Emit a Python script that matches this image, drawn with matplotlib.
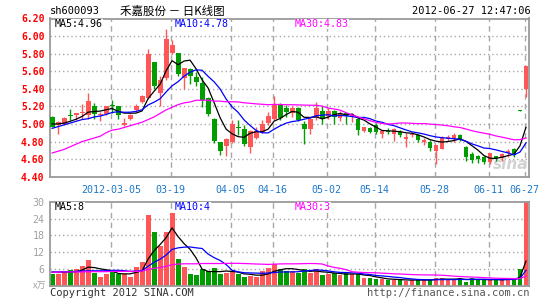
import matplotlib
matplotlib.use('Agg')
import matplotlib.pyplot as plt
import matplotlib.transforms as mtransforms
import numpy as np
import pandas as pd

# ---------------- data ----------------
opens = [5.08, 4.99, 5.00, 5.10, 5.10, 5.12, 5.10, 5.21, 5.10, 5.11,
         5.21, 5.20, 4.99, 5.06, 5.16, 5.25, 5.30, 5.71, 5.35, 5.52,
         5.81, 5.81, 5.52, 5.63, 5.54, 5.47, 5.30, 5.06, 4.80, 4.75,
         4.80, 4.96, 4.94, 4.74, 4.84, 4.91, 5.01, 5.06, 5.23, 5.18,
         5.13, 5.18, 5.00, 4.94, 5.07, 5.15, 5.09, 5.15, 5.07, 5.12,
         5.09, 5.06, 4.92, 4.95, 4.99, 4.89, 4.92, 4.89, 4.91, 4.83,
         4.87, 4.88, 4.80, 4.79, 4.69, 4.72, 4.83, 4.83, 4.87, 4.74,
         4.66, 4.63, 4.62, 4.57, 4.63, 4.61, 4.67, 4.72, 5.155, 5.40]
closes = [4.97, 5.02, 5.07, 5.09, 5.12, 5.13, 5.26, 5.11, 5.11, 5.20,
          5.20, 5.10, 5.01, 5.10, 5.21, 5.32, 5.80, 5.43, 5.50, 5.97,
          5.90, 5.57, 5.64, 5.55, 5.48, 5.27, 5.11, 4.81, 4.69, 4.83,
          5.00, 4.95, 4.77, 4.92, 4.92, 5.00, 5.09, 5.23, 5.07, 5.14,
          5.18, 5.05, 4.94, 5.06, 5.18, 5.06, 5.15, 5.08, 5.13, 5.09,
          5.11, 4.93, 4.96, 4.91, 4.91, 4.92, 4.91, 4.94, 4.88, 4.85,
          4.89, 4.82, 4.82, 4.73, 4.76, 4.84, 4.85, 4.88, 4.82, 4.62,
          4.59, 4.60, 4.57, 4.67, 4.61, 4.66, 4.69, 4.65, 5.15, 5.66]
highs = [5.09, 5.03, 5.08, 5.17, 5.13, 5.23, 5.35, 5.24, 5.14, 5.21,
         5.27, 5.20, 5.07, 5.11, 5.23, 5.33, 5.85, 5.71, 5.55, 6.08,
         5.96, 5.81, 5.64, 5.64, 5.59, 5.53, 5.31, 5.07, 4.80, 4.84,
         5.05, 5.05, 4.99, 4.93, 4.96, 5.05, 5.14, 5.32, 5.24, 5.22,
         5.21, 5.19, 5.03, 5.08, 5.25, 5.20, 5.18, 5.16, 5.15, 5.13,
         5.13, 5.07, 4.97, 4.97, 5.01, 4.93, 4.95, 4.95, 4.93, 4.90,
         4.91, 4.89, 4.84, 4.82, 4.76, 4.86, 4.88, 4.90, 4.89, 4.75,
         4.68, 4.65, 4.64, 4.67, 4.64, 4.67, 4.72, 4.73, 5.155, 5.66]
lows = [4.96, 4.89, 4.99, 5.05, 5.05, 5.06, 5.06, 5.06, 5.03, 5.10,
        5.13, 5.06, 4.98, 5.05, 5.15, 5.24, 5.28, 5.40, 5.20, 5.50,
        5.80, 5.55, 5.40, 5.45, 5.43, 5.19, 5.09, 4.78, 4.65, 4.63,
        4.78, 4.88, 4.75, 4.67, 4.83, 4.90, 4.99, 5.05, 5.05, 5.08,
        5.08, 5.03, 4.77, 4.89, 5.05, 5.00, 5.06, 5.00, 5.03, 5.00,
        5.02, 4.88, 4.91, 4.90, 4.89, 4.84, 4.89, 4.81, 4.85, 4.74,
        4.85, 4.80, 4.76, 4.69, 4.54, 4.71, 4.81, 4.80, 4.81, 4.58,
        4.56, 4.56, 4.55, 4.55, 4.58, 4.58, 4.62, 4.62, 5.15, 5.31]
volumes = [4.3, 4.1, 5.4, 5.6, 6.0, 7.2, 9.3, 4.8, 3.3, 4.3,
           5.6, 4.3, 4.1, 3.3, 6.9, 8.4, 25.1, 19.1, 14.2, 19.1,
           25.9, 9.6, 6.6, 4.1, 3.8, 6.0, 5.4, 6.3, 4.1, 4.8,
           5.4, 4.1, 3.2, 3.4, 3.2, 5.4, 6.3, 7.8, 6.0, 5.3,
           5.4, 4.8, 6.0, 4.6, 6.0, 3.8, 4.1, 4.6, 3.8, 4.8,
           4.1, 4.1, 2.8, 2.8, 2.4, 2.4, 2.2, 2.2, 2.2, 1.8,
           2.2, 2.2, 2.2, 2.2, 2.8, 2.8, 2.2, 2.2, 2.8, 1.6,
           2.8, 2.2, 2.2, 2.2, 2.2, 2.2, 2.9, 2.2, 6.0, 31.0]

# moving-average values before a full window exists
ma5_head = [5.00, 5.00, 5.01, 5.03]
ma10_head = [4.95, 4.97, 4.99, 5.01, 5.03, 5.05, 5.06, 5.08, 5.09]
ma30_head = [4.67, 4.69, 4.71, 4.74, 4.77, 4.80, 4.82, 4.84, 4.86, 4.90,
             4.93, 4.94, 4.96, 4.98, 5.00, 5.02, 5.05, 5.08, 5.12, 5.16,
             5.19, 5.22, 5.24, 5.25, 5.27, 5.27, 5.27, 5.26, 5.26]
vma5_head = [4.9, 4.8, 4.9, 5.0]
vma10_head = [5.0, 5.0, 5.1, 5.1, 5.2, 5.3, 5.4, 5.4, 5.4]
vma30_head = [4.9, 4.9, 5.0, 5.0, 5.0, 5.0, 5.1, 5.1, 5.1, 5.1,
              5.2, 5.2, 5.2, 5.2, 5.2, 5.3, 5.9, 6.3, 6.6, 7.0,
              7.6, 7.8, 7.9, 7.9, 7.9, 8.0, 8.0, 8.0, 8.0]

date_idx = [10, 20, 30, 37, 46, 54, 64, 73, 79]
date_labels = ['2012-03-05', '03-19', '04-05', '04-16', '05-02',
               '05-14', '05-28', '06-11', '06-27']
price_ticks = [6.20, 6.00, 5.80, 5.60, 5.40, 5.20, 5.00, 4.80, 4.60, 4.40]
vol_ticks = [30, 24, 18, 12, 6]

price_legend = ['MA5:4.96', 'MA10:4.78', 'MA30:4.83']
vol_legend = ['MA5:8', 'MA10:4', 'MA30:3']
title_code = 'sh600093'
title_name = '禾嘉股份 － 日K线图'
title_time = '2012-06-27 12:47:06'

# ---------------- styles ----------------
RED = '#FF5757'
GREEN = '#009C00'
MA_COLORS = ['#000000', '#0000FF', '#FF00FF']
GRID = '#A8A8A8'
MONO = 'DejaVu Sans Mono'

W, H = 545, 300
fig = plt.figure(figsize=(W / 100, H / 100), dpi=100)
fig.patch.set_facecolor('white')


def px_axes(x0, y0, x1, y1):
    return fig.add_axes([x0 / W, 1 - y1 / H, (x1 - x0) / W, (y1 - y0) / H])


def with_head(values, n, head):
    s = pd.Series(values, dtype=float).rolling(n).mean().to_numpy()
    s[:n - 1] = head
    return s


n = len(closes)
x = np.arange(n)
o = np.array(opens); c = np.array(closes)
hi = np.array(highs); lo = np.array(lows)
up = c > o
colors = [RED if u else GREEN for u in up]
XMIN, XMAX = -0.35, n - 0.5
div_x = [i - 0.22 for i in date_idx]

ax_p = px_axes(50, 18.5, 529, 176.7)
ax_v = px_axes(50, 201.7, 529, 286)

for ax in (ax_p, ax_v):
    ax.set_xlim(XMIN, XMAX)
    ax.set_xticks([])
    for sp in ax.spines.values():
        sp.set_color('#9A9A9A')
        sp.set_linewidth(1.3)
    for dx in div_x:
        ax.axvline(dx, color=GRID, lw=1.0, dashes=(4, 3), zorder=0)
    ax.tick_params(axis='y', length=0, pad=4)

# ---- price panel ----
ax_p.set_ylim(4.40, 6.20)
ax_p.set_yticks(price_ticks)
ax_p.set_yticklabels(['%.2f' % t for t in price_ticks], color='#FF0000',
                     fontfamily=MONO, fontsize=7, fontweight='bold')
for t in price_ticks[1:-1]:
    ax_p.axhline(t, color=GRID, lw=1.0, dashes=(1, 2), zorder=0)

body_bottom = np.minimum(o, c)
body_h = np.maximum(np.abs(c - o), 0.011)
ax_p.vlines(x, lo, hi, colors=colors, lw=1.0, zorder=2)
ax_p.bar(x, body_h, bottom=body_bottom, width=0.82, color=colors,
         linewidth=0, zorder=3)

ma_price = [with_head(closes, 5, ma5_head), with_head(closes, 10, ma10_head),
            with_head(closes, 30, ma30_head)]
for m, col in zip(ma_price, MA_COLORS):
    ax_p.plot(x, m, color=col, lw=0.9, zorder=4)

# sina watermark
ax_p.text(0.998, 0.03, 'sina', transform=ax_p.transAxes, ha='right',
          va='bottom', fontsize=11, fontstyle='italic', fontweight='bold',
          color='#D2D2D2', zorder=1)

for k, (txt, col) in enumerate(zip(price_legend, MA_COLORS)):
    fig.text((55 + 120 * k) / W, 1 - 24 / H, txt, color=col, fontfamily=MONO,
             fontsize=7.2, va='center', ha='left',
             bbox=dict(facecolor='white', edgecolor='none', pad=0.3))

# date labels
trans = mtransforms.blended_transform_factory(ax_p.transData, fig.transFigure)
for dx, lab in zip(div_x, date_labels):
    ax_p.text(dx, 1 - 190 / H, lab, transform=trans, ha='center', va='center',
              color='#1E78C8', fontfamily=MONO, fontsize=7.2)

# ---- volume panel ----
vols = np.array(volumes)
ax_v.set_ylim(0, 30)
ax_v.set_yticks(vol_ticks)
ax_v.set_yticklabels([str(t) for t in vol_ticks], color='#A0A0A0',
                     fontfamily=MONO, fontsize=7.2)
for t in vol_ticks[1:]:
    ax_v.axhline(t, color=GRID, lw=1.0, dashes=(1, 2), zorder=0)
ax_v.bar(x, vols, width=0.82, color=colors, linewidth=0, zorder=2)
ma_vol = [with_head(volumes, 5, vma5_head), with_head(volumes, 10, vma10_head),
          with_head(volumes, 30, vma30_head)]
for m, col in zip(ma_vol, MA_COLORS):
    ax_v.plot(x, m, color=col, lw=0.9, zorder=4)
for k, (txt, col) in enumerate(zip(vol_legend, MA_COLORS)):
    fig.text((55 + 120 * k) / W, 1 - 207 / H, txt, color=col, fontfamily=MONO,
             fontsize=7.2, va='center', ha='left',
             bbox=dict(facecolor='white', edgecolor='none', pad=0.3))

fig.text(46 / W, 1 - 286 / H, 'x万', color='#A0A0A0', fontsize=6.5,
         fontstyle='italic', ha='right', va='center',
         family=['Noto Sans CJK SC', 'DejaVu Sans'])

# ---- header / footer text ----
fig.text(50 / W, 1 - 11 / H, title_code, fontfamily=MONO, fontsize=7.5,
         va='center', ha='left', color='black')
fig.text(120 / W, 1 - 11 / H, title_name, fontsize=8.3, va='center',
         ha='left', color='black', family=['Noto Sans CJK SC', 'DejaVu Sans'])
fig.text(531 / W, 1 - 11 / H, title_time, fontfamily=MONO, fontsize=7.5,
         va='center', ha='right', color='black')
fig.text(50 / W, 1 - 293 / H, 'Copyright 2012 SINA.COM', fontfamily=MONO,
         fontsize=7.5, va='center', ha='left', color='#333333')
fig.text(529 / W, 1 - 293 / H, 'http://finance.sina.com.cn', fontfamily=MONO,
         fontsize=7.5, va='center', ha='right', color='#555555')

fig.savefig('out.png', dpi=100, facecolor='white')
